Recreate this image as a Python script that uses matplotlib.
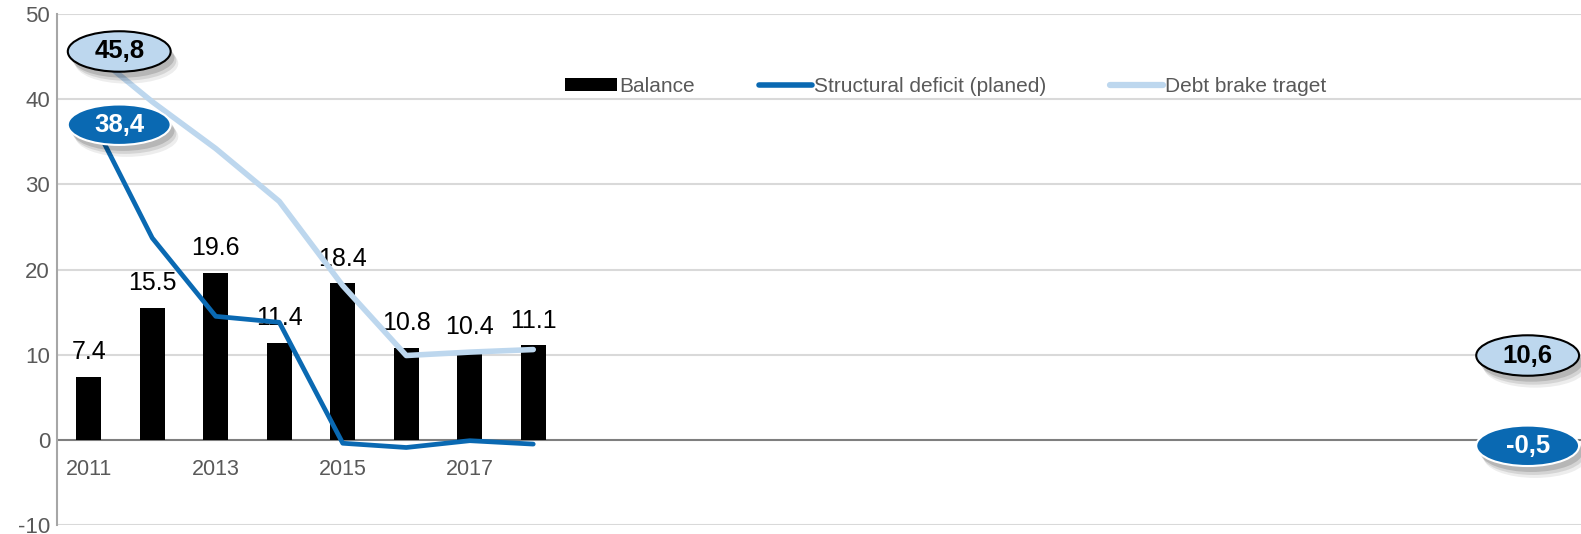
import matplotlib
matplotlib.use("Agg")
import matplotlib.pyplot as plt
from matplotlib.patches import Ellipse, Patch
from matplotlib.lines import Line2D
import numpy as np

plt.rcParams['font.family'] = ['Liberation Sans', 'DejaVu Sans']
plt.rcParams['axes.unicode_minus'] = False

# budget figures per year
years = [2011, 2012, 2013, 2014, 2015, 2016, 2017, 2018]
balance = [7.4, 15.5, 19.6, 11.4, 18.4, 10.8, 10.4, 11.1]
structural = [38.4, 23.7, 14.5, 13.8, -0.4, -0.9, -0.1, -0.5]
debt_brake = [45.8, 39.7, 34.2, 28.0, 18.1, 9.9, 10.3, 10.6]

tick_years = [2011, 2013, 2015, 2017]
n_slots = 24          # category axis runs well past the data

DARK_BLUE = '#0A69B2'
LIGHT_BLUE = '#BDD7EE'
GREY_TXT = '#595959'

fig = plt.figure(figsize=(15.81, 5.34), dpi=100)
ax = fig.add_axes([57 / 1581, 1 - 525 / 534, (1581 - 57) / 1581, (525 - 14) / 534])

x = np.arange(len(years))
ax.bar(x, balance, width=0.39, color='black', zorder=2)
for xi, v in zip(x, balance):
    ax.annotate(f"{v:.1f}", (xi, v), xytext=(0, 9), textcoords='offset points',
                ha='center', va='bottom', fontsize=18, color='black', zorder=3)

ax.plot(x, debt_brake, color=LIGHT_BLUE, lw=4, solid_capstyle='round',
        solid_joinstyle='round', zorder=4)
ax.plot(x, structural, color=DARK_BLUE, lw=3.4, solid_capstyle='round',
        solid_joinstyle='round', zorder=4)

ax.set_xlim(-0.5, n_slots - 0.5)
ax.set_ylim(-10, 50)

# grid + zero line
for gy in range(-10, 51, 10):
    if gy == 0:
        ax.axhline(0, color='#7f7f7f', lw=1.5, zorder=1)
    else:
        ax.axhline(gy, color='#d9d9d9', lw=1.5, zorder=0)

for s in ['top', 'right', 'bottom']:
    ax.spines[s].set_visible(False)
ax.spines['left'].set_color('#a6a6a6')
ax.spines['left'].set_linewidth(1.5)

ax.set_yticks(range(-10, 51, 10))
ax.tick_params(axis='y', length=0, pad=5, labelsize=16, labelcolor=GREY_TXT)

# category labels sit just under the zero line
ax.set_xticks([])
for yr in tick_years:
    ax.text(years.index(yr), -2.2, str(yr), ha='center', va='top',
            fontsize=15.5, color=GREY_TXT)


def callout(cx, cy, text, face, edge, txtcolor):
    w, h = 1.62, 4.75
    for k, a in [(4, 0.07), (3, 0.1), (2, 0.14)]:
        ax.add_patch(Ellipse((cx + 0.03 * k, cy - 0.35 * k), w, h,
                             facecolor='black', edgecolor='none', alpha=a,
                             zorder=5, clip_on=False))
    ax.add_patch(Ellipse((cx, cy), w, h, facecolor=face, edgecolor=edge,
                         lw=1.5, zorder=6, clip_on=False))
    ax.text(cx, cy, text, ha='center', va='center', fontsize=18.5,
            fontweight='bold', color=txtcolor, zorder=7)


def fmt(v):
    return f"{v:.1f}".replace('.', ',')


callout(0.48, debt_brake[0] - 0.2, fmt(debt_brake[0]), LIGHT_BLUE, 'black', 'black')
callout(0.48, structural[0] - 1.4, fmt(structural[0]), DARK_BLUE, 'white', 'white')
callout(22.66, debt_brake[-1] - 0.7, fmt(debt_brake[-1]), LIGHT_BLUE, 'black', 'black')
callout(22.66, structural[-1] - 0.2, fmt(structural[-1]), DARK_BLUE, 'white', 'white')

handles = [
    Patch(facecolor='black', edgecolor='none'),
    Line2D([], [], color=DARK_BLUE, lw=4, solid_capstyle='round'),
    Line2D([], [], color=LIGHT_BLUE, lw=4.5, solid_capstyle='round'),
]
labels = ['Balance', 'Structural deficit (planed)', 'Debt brake traget']
leg = ax.legend(handles, labels, loc='center', bbox_to_anchor=(0.583, 0.858),
                ncol=3, frameon=False, fontsize=15, handlelength=2.5,
                handleheight=0.55, handletextpad=0.1, columnspacing=3.1)
for t in leg.get_texts():
    t.set_color(GREY_TXT)

fig.savefig('out.png', dpi=100)
